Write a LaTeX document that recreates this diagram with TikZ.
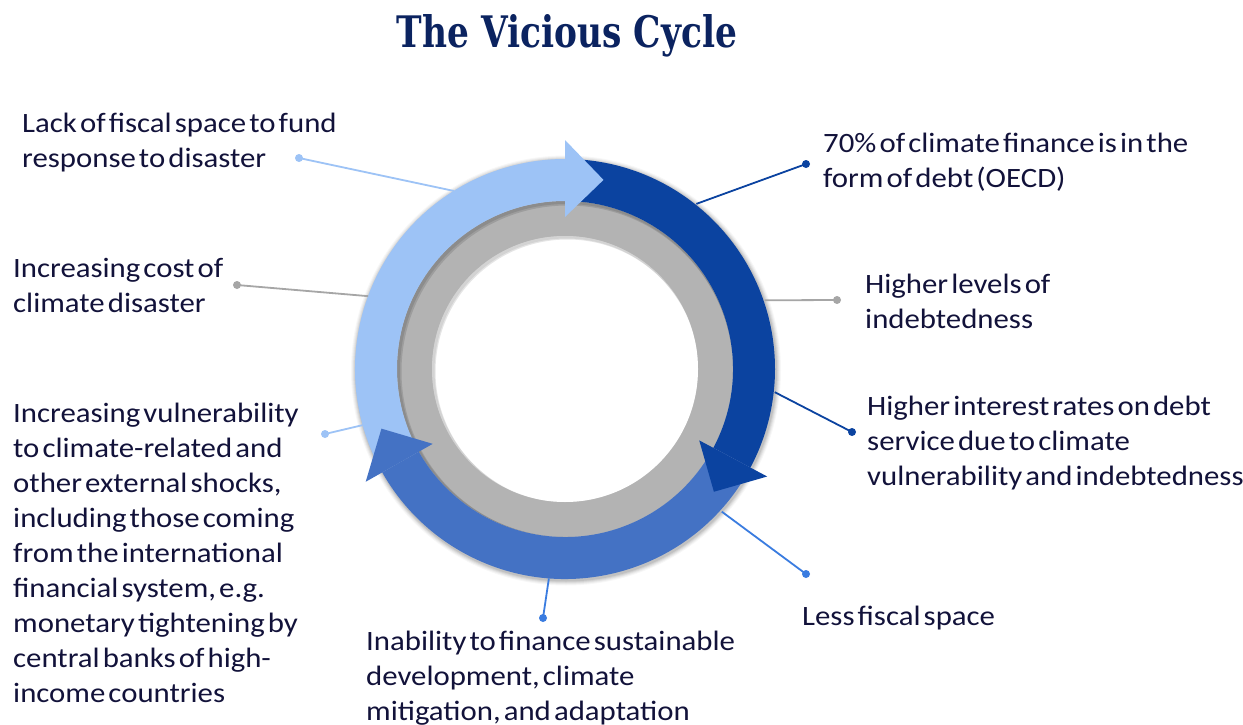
\documentclass[tikz,border=0pt]{standalone}
\usepackage{fontspec}
\usepackage{graphicx}
\newfontfamily\labelfont[FakeStretch=1.1,WordSpace=0.45]{Carlito}
\newfontfamily\titlefont{DejaVu Serif}
\definecolor{lightb}{HTML}{9DC3F6}
\definecolor{darkb}{HTML}{0B43A0}
\definecolor{midb}{HTML}{4472C4}
\definecolor{brightb}{HTML}{3A7CE0}
\definecolor{ringgray}{HTML}{B3B3B3}
\definecolor{linegray}{HTML}{A6A6A6}
\definecolor{txt}{HTML}{12123A}
\definecolor{titlec}{HTML}{0B2360}
\newcommand\ringbody[3]{\fill[#1] (#2:210) arc[start angle=#2, end angle=#3, radius=210] -- (#3:168) arc[start angle=#3, end angle=#2, radius=168] -- cycle;}
\newcommand\ringhead[2]{\fill[#1] (#2:152) -- (#2:229) -- ({#2-11.5}:193) -- cycle;}
\tikzset{
  lbl/.style={anchor=north west, inner sep=0pt, align=left, text=txt,
    font=\labelfont\fontsize{28}{35}\selectfont,
    execute at begin node=\rule{0pt}{24pt}},
  cdot/.style={circle, fill=#1, inner sep=0pt, minimum size=8pt},
  conn/.style={draw=#1, line width=1.8pt},
}
\begin{document}
\begin{tikzpicture}[x=1pt,y=1pt]
\fill[white] (0,0) rectangle (1243,-725);
\useasboundingbox (0,0) rectangle (1243,-725);
\coordinate (c) at (565,-369);

% title
\node[anchor=base, text=titlec, inner sep=0pt] (title) at (567,-48)
  {\resizebox{340pt}{33pt}{\titlefont\bfseries The Vicious Cycle}};

% ring
\begin{scope}[shift={(565,-369)}]
  \foreach \k/\o in {5/0.03,4/0.04,3/0.05,2/0.06,1/0.08}
    \fill[black,opacity=\o] (1,-1.5) circle[radius={210+\k}];
  \fill[ringgray, even odd rule] (0,0) circle[radius=168] (0,0) circle[radius=133];
  \fill[white] (0,0) circle[radius=133];
  \begin{scope}
    \clip (0,0) circle[radius=133];
    \fill[black,opacity=0.10, even odd rule] (0,0) circle[radius=140] (2.5,-2.5) circle[radius=132];
    \fill[black,opacity=0.08, even odd rule] (0,0) circle[radius=140] (1.5,-1.5) circle[radius=132];
  \end{scope}
  \begin{scope}
    \clip (0,0) circle[radius=168];
    \fill[black,opacity=0.12, even odd rule] (0,0) circle[radius=175] (2.5,-2.5) circle[radius=166];
    \fill[black,opacity=0.10, even odd rule] (0,0) circle[radius=175] (1.5,-1.5) circle[radius=166.5];
  \end{scope}
  \ringbody{lightb}{209.5}{90}
  \ringbody{darkb}{90}{-28}
  \ringbody{midb}{-28}{-150.5}
  \ringhead{lightb}{90}
  \ringhead{darkb}{-28}
  \ringhead{midb}{209.5}
\end{scope}

% connector ends on the ring
\coordinate (e1) at ([shift={(122:210)}]c);
\coordinate (e2) at ([shift={(159.7:210)}]c);
\coordinate (e3) at ([shift={(195.5:210)}]c);
\coordinate (e4) at ([shift={(51.5:211)}]c);
\coordinate (e5) at ([shift={(19:211)}]c);
\coordinate (e6) at ([shift={(-6.3:211)}]c);
\coordinate (e7) at ([shift={(-42.3:212)}]c);
\coordinate (e8) at ([shift={(-94.4:210)}]c);

% dots
\node[cdot=lightb]   (d1) at (299,-158) {};
\node[cdot=linegray] (d2) at (237,-285) {};
\node[cdot=lightb]   (d3) at (325,-434) {};
\node[cdot=darkb]    (d4) at (806,-164) {};
\node[cdot=linegray] (d5) at (837,-300) {};
\node[cdot=darkb]    (d6) at (852,-432) {};
\node[cdot=brightb]  (d7) at (806,-574) {};
\node[cdot=brightb]  (d8) at (543,-618) {};

\draw[conn=lightb]   (e1) -- (d1.center);
\draw[conn=linegray] (e2) -- (d2.center);
\draw[conn=lightb]   (e3) -- (d3.center);
\draw[conn=darkb]    (e4) -- (d4.center);
\draw[conn=linegray] (e5) -- (d5.center);
\draw[conn=darkb]    (e6) -- (d6.center);
\draw[conn=brightb]  (e7) -- (d7.center);
\draw[conn=brightb]  (e8) -- (d8.center);

% labels
\node[lbl] (l1) at (22,-113) {Lack of fiscal space to fund\\response to disaster};
\node[lbl] (l2) at (13,-258) {Increasing cost of\\climate disaster};
\node[lbl] (l3) at (13,-403) {Increasing vulnerability\\to climate-related and\\other external shocks,\\including those coming\\from the international\\financial system, e.g.\\monetary tightening by\\central banks of high-\\income countries};
\node[lbl] (l4) at (823,-133) {70\% of climate finance is in the\\form of debt (OECD)};
\node[lbl] (l5) at (865,-274) {Higher levels of\\indebtedness};
\node[lbl] (l6) at (867,-396) {Higher interest rates on debt\\service due to climate\\vulnerability and indebtedness};
\node[lbl] (l7) at (802,-601) {Less fiscal space};
\node[lbl] (l8) at (366,-631) {Inability to finance sustainable\\development, climate\\mitigation, and adaptation};
\end{tikzpicture}
\end{document}
